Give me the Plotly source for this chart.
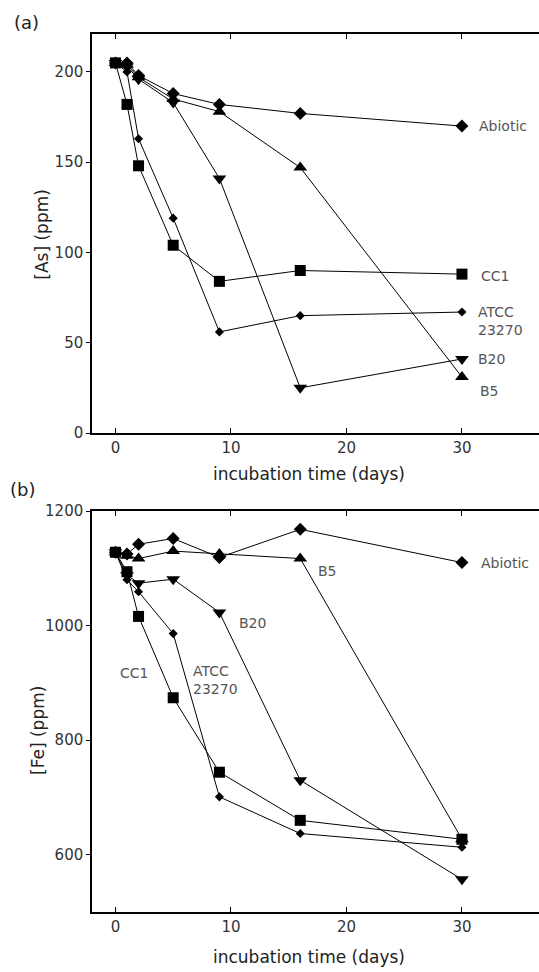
import plotly.graph_objects as go

# ---------------- data ----------------
days = [0, 1, 2, 5, 9, 16, 30]

as_abiotic = [205, 205, 198, 188, 182, 177, 170]
as_b5 = [205, 204, 197, 185, 178, 147, 31]
as_b20 = [205, 203, 196, 183, 141, 25, 41]
as_cc1 = [205, 182, 148, 104, 84, 90, 88]
as_atcc = [205, 200, 163, 119, 56, 65, 67]

fe_abiotic = [1128, 1125, 1142, 1152, 1119, 1168, 1110]
fe_b5 = [1128, 1122, 1117, 1130, 1125, 1117, 627]
fe_b20 = [1128, 1088, 1074, 1081, 1023, 730, 557]
fe_cc1 = [1128, 1094, 1016, 874, 744, 660, 627]
fe_atcc = [1128, 1080, 1059, 986, 701, 637, 613]

x_ticks = [0, 10, 20, 30]
as_ticks = [0, 50, 100, 150, 200]
fe_ticks = [600, 800, 1000, 1200]

series_styles = {
    "Abiotic": dict(symbol="diamond", size=10),
    "B5": dict(symbol="triangle-up", size=12),
    "B20": dict(symbol="triangle-down", size=12),
    "CC1": dict(symbol="square", size=11),
    "ATCC 23270": dict(symbol="diamond", size=7),
}

as_series = {"Abiotic": as_abiotic, "B5": as_b5, "B20": as_b20,
             "CC1": as_cc1, "ATCC 23270": as_atcc}
fe_series = {"Abiotic": fe_abiotic, "B5": fe_b5, "B20": fe_b20,
             "CC1": fe_cc1, "ATCC 23270": fe_atcc}

fig = go.Figure()
for name, vals in as_series.items():
    st = series_styles[name]
    fig.add_trace(go.Scatter(x=days, y=vals, mode="lines+markers", name=name,
                             line=dict(color="black", width=1),
                             marker=dict(color="black", symbol=st["symbol"], size=st["size"]),
                             xaxis="x", yaxis="y", showlegend=False))
for name, vals in fe_series.items():
    st = series_styles[name]
    fig.add_trace(go.Scatter(x=days, y=vals, mode="lines+markers", name=name,
                             line=dict(color="black", width=1),
                             marker=dict(color="black", symbol=st["symbol"], size=st["size"]),
                             xaxis="x2", yaxis="y2", showlegend=False))

W, H = 539, 972
ML, MR, MT, MB = 92, 0, 34, H - 912
PW, PH = W - ML - MR, H - MT - MB


def px_x(px):
    return (px - ML) / PW


def px_y(py):
    return (H - MB - py) / PH


tickfont = dict(family="DejaVu Sans, Verdana", size=15, color="#333")
titlefont = dict(family="DejaVu Sans, Verdana", size=17, color="#222")

xcommon = dict(range=[-2.03, 36.67], tickvals=x_ticks, showline=True, linecolor="black",
               linewidth=1.5, mirror="ticks", ticks="inside", ticklen=5, tickcolor="black",
               showgrid=False, zeroline=False, tickfont=tickfont, automargin=False,
               domain=[0, 1])
ycommon = dict(showline=True, linecolor="black", linewidth=1.5, ticks="outside",
               ticklen=4, tickcolor="black", showgrid=False, zeroline=False,
               tickfont=tickfont, automargin=False)

fig.update_layout(
    width=W, height=H, template="none",
    margin=dict(l=ML, r=MR, t=MT, b=MB, pad=0),
    plot_bgcolor="white", paper_bgcolor="white",
    xaxis=dict(**xcommon, anchor="y"),
    yaxis=dict(**ycommon, range=[0, 221], tickvals=as_ticks,
               domain=[px_y(433), 1], anchor="x"),
    xaxis2=dict(**xcommon, anchor="y2"),
    yaxis2=dict(**ycommon, range=[500, 1200], tickvals=fe_ticks,
                domain=[0, px_y(511)], anchor="x2"),
)

labfont = dict(family="DejaVu Sans, Verdana", size=14, color="#555")
ann = []
# panel (a) labels
for txt, x, y in [("Abiotic", 31.3, 170), ("CC1", 31.5, 87), ("ATCC<br>23270", 31.2, 62),
                  ("B20", 31.2, 41), ("B5", 31.4, 23)]:
    ann.append(dict(x=x, y=y, xref="x", yref="y", text=txt, showarrow=False,
                    xanchor="left", yanchor="middle", align="left", font=labfont))
# panel (b) labels
for txt, x, y in [("Abiotic", 31.5, 1110), ("B5", 17.4, 1095), ("B20", 10.5, 1005),
                  ("CC1", 0.2, 918), ("ATCC<br>23270", 6.5, 905)]:
    ann.append(dict(x=x, y=y, xref="x2", yref="y2", text=txt, showarrow=False,
                    xanchor="left", yanchor="middle", align="left", font=labfont))

# axis titles as annotations
for txt, cx, cy, ang in [("[As] (ppm)", 41.7, 234, -90), ("[Fe] (ppm)", 38, 731, -90),
                         ("incubation time (days)", 309, 474, 0),
                         ("incubation time (days)", 309, 957, 0)]:
    ann.append(dict(x=px_x(cx), y=px_y(cy), xref="paper", yref="paper", text=txt,
                    showarrow=False, xanchor="center", yanchor="middle", textangle=ang,
                    font=titlefont))

# panel letters
for txt, cx, cy in [("(a)", 26, 22), ("(b)", 22, 490)]:
    ann.append(dict(x=px_x(cx), y=px_y(cy), xref="paper", yref="paper", text=txt,
                    showarrow=False, xanchor="center", yanchor="middle",
                    font=dict(family="DejaVu Sans", size=18, color="#222")))
fig.update_layout(annotations=ann)

# remove the default page margin so the figure fills the window exactly
page_fix = ("document.body.style.margin='0';"
            "document.documentElement.style.overflow='hidden';"
            "document.body.style.overflow='hidden';")
fig.write_html("out.html", post_script=page_fix, config={"displayModeBar": False})
